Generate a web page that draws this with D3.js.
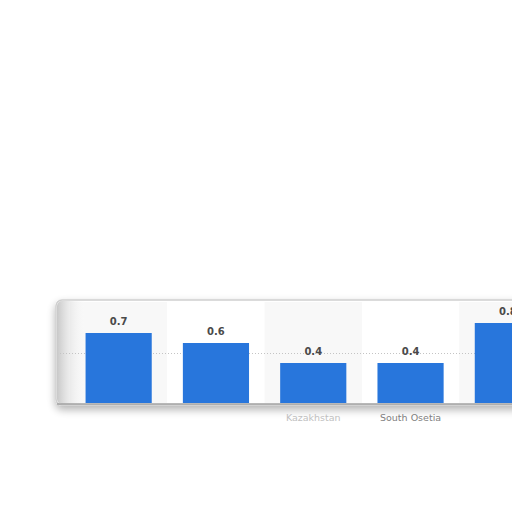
<!DOCTYPE html>
<html>
<head>
<meta charset="utf-8">
<script src="https://cdn.jsdelivr.net/npm/d3@7"></script>
<style>
  html, body { margin: 0; padding: 0; background: #fff; }
  svg { display: block; }
</style>
</head>
<body>
<svg id="chart" width="512" height="512"></svg>
<script>
// data
var categories = ["c1", "c2", "Kazakhstan", "South Osetia", "c5"];
var tickLabels = ["", "", "Kazakhstan", "South Osetia", ""];
var values = [0.7, 0.6, 0.4, 0.4, 0.8];
var gridTicks = [0.5];

var barColor = "#2876dc";
var svg = d3.select("#chart");

var x = d3.scaleBand()
    .domain(categories)
    .range([70, 556.5])
    .paddingInner(0.32)
    .paddingOuter(0.16);

var y = d3.scaleLinear()
    .domain([0, 1])
    .range([403, 303]);

var defs = svg.append("defs");

var sh = defs.append("filter").attr("id", "shadow")
    .attr("x", "-10%").attr("y", "-20%").attr("width", "130%").attr("height", "160%");
sh.append("feGaussianBlur").attr("in", "SourceAlpha").attr("stdDeviation", 4);
sh.append("feOffset").attr("dy", 4).attr("result", "b");
sh.append("feComponentTransfer").attr("in", "b").attr("result", "c")
    .append("feFuncA").attr("type", "linear").attr("slope", 0.3);
var fm = sh.append("feMerge");
fm.append("feMergeNode").attr("in", "c");
fm.append("feMergeNode").attr("in", "SourceGraphic");

var lg = defs.append("linearGradient").attr("id", "leftEdge")
    .attr("x1", 0).attr("x2", 1).attr("y1", 0).attr("y2", 0);
lg.append("stop").attr("offset", "0%").attr("stop-color", "#c8c8c8");
lg.append("stop").attr("offset", "100%").attr("stop-color", "#ffffff").attr("stop-opacity", 0);

// panel
var panel = svg.append("g");
panel.append("rect")
    .attr("x", 56).attr("y", 300)
    .attr("width", 480).attr("height", 105)
    .attr("rx", 6)
    .attr("fill", "#fff")
    .attr("stroke", "#cfcfcf")
    .attr("stroke-width", 1.5)
    .attr("filter", "url(#shadow)");

// alternating column shading
panel.selectAll("rect.band")
    .data(categories)
    .enter().append("rect")
    .attr("class", "band")
    .attr("x", function(d){ return x(d) - x.step() * x.paddingInner() / 2; })
    .attr("y", 302)
    .attr("width", x.step())
    .attr("height", 101)
    .attr("fill", function(d, i){ return i % 2 == 0 ? "#f8f8f8" : "#ffffff"; });

panel.append("rect")
    .attr("x", 57).attr("y", 301)
    .attr("width", 30).attr("height", 103)
    .attr("rx", 5)
    .attr("fill", "url(#leftEdge)");

// grid
svg.selectAll("line.grid")
    .data(gridTicks)
    .enter().append("line")
    .attr("class", "grid")
    .attr("x1", 60).attr("x2", 512)
    .attr("y1", function(d){ return Math.round(y(d)) + 0.5; })
    .attr("y2", function(d){ return Math.round(y(d)) + 0.5; })
    .attr("stroke", "#c4c4c4")
    .attr("stroke-width", 1)
    .attr("stroke-dasharray", "1,2");

// bars
svg.selectAll("rect.bar")
    .data(values)
    .enter().append("rect")
    .attr("class", "bar")
    .attr("x", function(d, i){ return x(categories[i]); })
    .attr("y", function(d){ return y(d); })
    .attr("width", x.bandwidth())
    .attr("height", function(d){ return y(0) - y(d); })
    .attr("fill", barColor);

// baseline
svg.append("line")
    .attr("x1", 57).attr("x2", 512)
    .attr("y1", y(0) + 1).attr("y2", y(0) + 1)
    .attr("stroke", "#a0a0a0")
    .attr("stroke-width", 1.5);

// value labels
svg.selectAll("text.val")
    .data(values)
    .enter().append("text")
    .attr("class", "val")
    .text(function(d){ return d.toFixed(1); })
    .attr("x", function(d, i){ return x(categories[i]) + x.bandwidth() / 2; })
    .attr("y", function(d){ return y(d) - 8; })
    .attr("text-anchor", "middle")
    .attr("font-family", "DejaVu Sans, sans-serif")
    .attr("font-size", 10)
    .attr("font-weight", "bold")
    .attr("fill", "#4a4a4a");

// category labels
svg.selectAll("text.cat")
    .data(tickLabels)
    .enter().append("text")
    .attr("class", "cat")
    .text(function(d){ return d; })
    .attr("x", function(d, i){ return x(categories[i]) + x.bandwidth() / 2; })
    .attr("y", 421)
    .attr("text-anchor", "middle")
    .attr("font-family", "DejaVu Sans, sans-serif")
    .attr("font-size", 9.5)
    .attr("fill", function(d, i){ return i == 2 ? "#c0c0c0" : "#808080"; });
</script>
</body>
</html>
